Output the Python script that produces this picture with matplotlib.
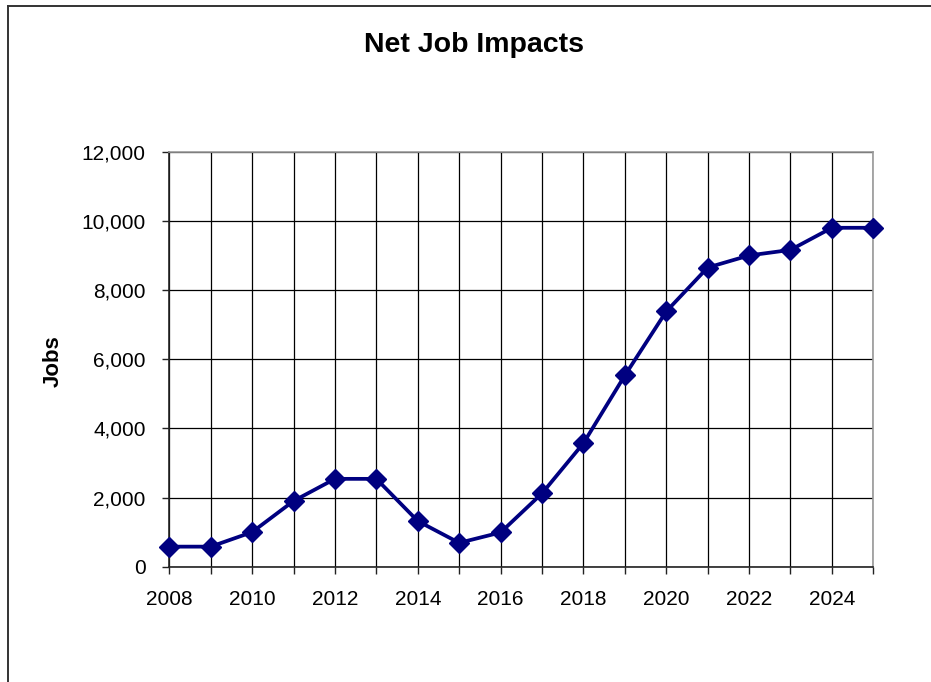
import matplotlib
matplotlib.use("Agg")
import matplotlib.pyplot as plt
from matplotlib.lines import Line2D
from matplotlib.ticker import FuncFormatter, MultipleLocator

plt.rcParams['font.family'] = ['Liberation Sans', 'DejaVu Sans']

years = list(range(2008, 2026))
jobs = [580, 580, 1000, 1900, 2540, 2540, 1320, 690, 990,
        2120, 3570, 5530, 7380, 8650, 9000, 9160, 9800, 9800]

title = "Net Job Impacts"
ylabel = "Jobs"

fig = plt.figure(figsize=(9.31, 6.82), dpi=100)
fig.patch.set_facecolor("white")

# outer chart-area border (left and top edges visible)
fig.add_artist(Line2D([7.5 / 931, 7.5 / 931], [0, 1 - 5.5 / 682],
                      transform=fig.transFigure, color="#333333", lw=1.4))
fig.add_artist(Line2D([7.5 / 931, 1], [1 - 5.5 / 682, 1 - 5.5 / 682],
                      transform=fig.transFigure, color="#333333", lw=1.4))

ax = fig.add_axes([169.3 / 931, 1 - 566.7 / 682,
                   (873.3 - 169.3) / 931, (566.7 - 151.7) / 682])

ax.plot(years, jobs, color="#000080", lw=2.7, marker="D",
        markersize=10.2, markerfacecolor="#000080", markeredgecolor="#000080",
        zorder=3, clip_on=False)

ax.set_xlim(2008, 2025)
ax.set_ylim(0, 12000)
ax.xaxis.set_major_locator(MultipleLocator(1))
ax.yaxis.set_major_locator(MultipleLocator(2000))
ax.xaxis.set_major_formatter(FuncFormatter(
    lambda v, p: f"{int(round(v))}" if int(round(v)) % 2 == 0 else ""))
ax.yaxis.set_major_formatter(FuncFormatter(lambda v, p: f"{int(v):,}"))

ax.grid(True, color="black", lw=0.9, zorder=0)
ax.set_axisbelow(True)

for side in ("top", "right"):
    ax.spines[side].set_color("#999999")
    ax.spines[side].set_linewidth(1.2)
for side in ("left", "bottom"):
    ax.spines[side].set_color("#222222")
    ax.spines[side].set_linewidth(1.2)

ax.tick_params(axis="both", direction="out", length=5, width=1,
               color="#222222", labelsize=15, labelcolor="black")
ax.tick_params(axis="y", pad=12)
ax.tick_params(axis="x", pad=12)

fig.text(474 / 931, 1 - 45 / 682, title, ha="center", va="center",
         fontsize=20.5, fontweight="bold")
fig.text(53 / 931, 1 - 361 / 682, ylabel, ha="center", va="center",
         rotation=90, fontsize=16, fontweight="bold")

fig.savefig("out.png", dpi=100)
